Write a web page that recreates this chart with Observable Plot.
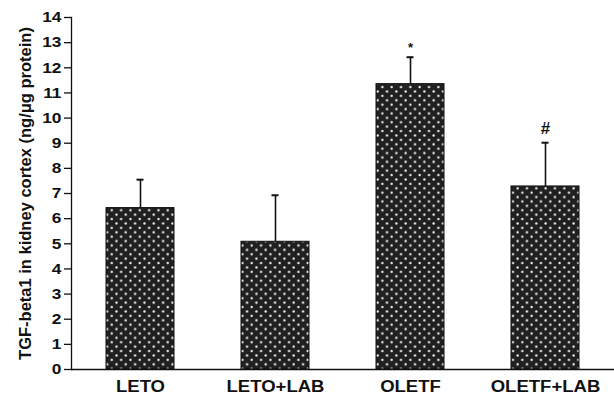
<!DOCTYPE html>
<html><head><meta charset="utf-8">
<script src="https://cdn.jsdelivr.net/npm/d3@7"></script>
<script src="https://cdn.jsdelivr.net/npm/@observablehq/plot@0.6"></script>
<style>body{margin:0;background:#fff}</style>
</head><body><div id="chart"></div>
<script>
const groups = ["LETO", "LETO+LAB", "OLETF", "OLETF+LAB"];
const means = [6.42, 5.08, 11.35, 7.28];
const upperErr = [7.55, 6.93, 12.42, 9.02];
const signs = ["", "", "*", "#"];
const yTicks = [0, 1, 2, 3, 4, 5, 6, 7, 8, 9, 10, 11, 12, 13, 14];
const yLabel = "TGF-beta1 in kidney cortex (ng/μg protein)";

const data = groups.map((g, i) => ({group: g, mean: means[i], upper: upperErr[i], sign: signs[i]}));
const ink = "#111";

const plot = Plot.plot({
  width: 614, height: 396,
  marginLeft: 71, marginRight: 0, marginTop: 17, marginBottom: 27,
  style: {fontFamily: "'Liberation Sans', Arial, sans-serif", fontWeight: "bold", color: ink, background: "#fff", overflow: "visible"},
  x: {domain: groups, paddingInner: 0.5, paddingOuter: 0.25, axis: null},
  y: {domain: [0, 14], axis: null},
  marks: [
    Plot.barY(data, {x: "group", y: "mean", fill: "url(#dots)", stroke: ink, strokeWidth: 1}),
    Plot.ruleX(data, {x: "group", y1: "mean", y2: "upper", stroke: ink, strokeWidth: 1.6}),
    Plot.tickY(data, {x: "group", y: "upper", stroke: ink, strokeWidth: 2, insetLeft: 30.5, insetRight: 30.5}),
    Plot.text(data.filter(d => d.sign === "*"), {x: "group", y: "upper", text: "sign", fontSize: 13, dy: -9.3, fill: ink}),
    Plot.text(data.filter(d => d.sign === "#"), {x: "group", y: "upper", text: "sign", fontSize: 17, dy: -13.7, fill: ink}),
    Plot.axisY({ticks: yTicks, tickSize: 7, tickPadding: 3, fontSize: 15, label: null, tickFormat: d => String(d), strokeWidth: 1.3}),
    Plot.axisX({tickSize: 0, tickPadding: 10, fontSize: 17, label: null}),
    Plot.ruleY([0], {stroke: ink, strokeWidth: 1.3}),
    Plot.frame({anchor: "left", stroke: ink, strokeWidth: 1.3}),
    Plot.text([yLabel], {frameAnchor: "left", textAnchor: "middle", rotate: -90, dx: -46, fontSize: 16.5, text: d => d, ariaLabel: "y-label", fill: ink})
  ]
});

// dotted fill pattern
const svg = d3.select(plot);
const defs = svg.insert("defs", ":first-child");
const pw = 9.33, ph = 8.8;
const pat = defs.append("pattern").attr("id", "dots").attr("patternUnits", "userSpaceOnUse")
  .attr("width", pw).attr("height", ph).attr("x", 3).attr("y", 2);
pat.append("rect").attr("width", pw).attr("height", ph).attr("fill", "#202020");
pat.append("circle").attr("cx", 1.5).attr("cy", 1.5).attr("r", 1.15).attr("fill", "#f4f4f4");
pat.append("circle").attr("cx", 1.5 + pw / 2).attr("cy", 1.5 + ph / 2).attr("r", 1.15).attr("fill", "#f4f4f4");

document.getElementById("chart").appendChild(plot);

// widen lettering so that a sample text reaches the width seen in the reference
function fit(selector, sample, target, fallback) {
  const texts = [...plot.querySelectorAll(selector)];
  let sx = fallback;
  try {
    const ref = texts.find(t => t.textContent === sample);
    const w = ref.getBBox().width;
    if (w > 0) sx = target / w;
  } catch (e) {}
  sx = Math.max(0.9, Math.min(1.4, sx));
  texts.forEach(t => {
    let tr = t.getAttribute("transform");
    if (!tr) {
      const x = parseFloat(t.getAttribute("x") || 0), y = parseFloat(t.getAttribute("y") || 0);
      t.removeAttribute("x"); t.removeAttribute("y");
      tr = `translate(${x},${y})`;
    }
    t.setAttribute("transform", tr + ` scale(${sx},1)`);
  });
}
fit('g[aria-label="y-axis tick label"] text', "14", 20, 1.2);
fit('g[aria-label="x-axis tick label"] text', "LETO+LAB", 98, 1.14);
fit('g[aria-label="y-label"] text', yLabel, 378, 1.15);
</script>
</body></html>
